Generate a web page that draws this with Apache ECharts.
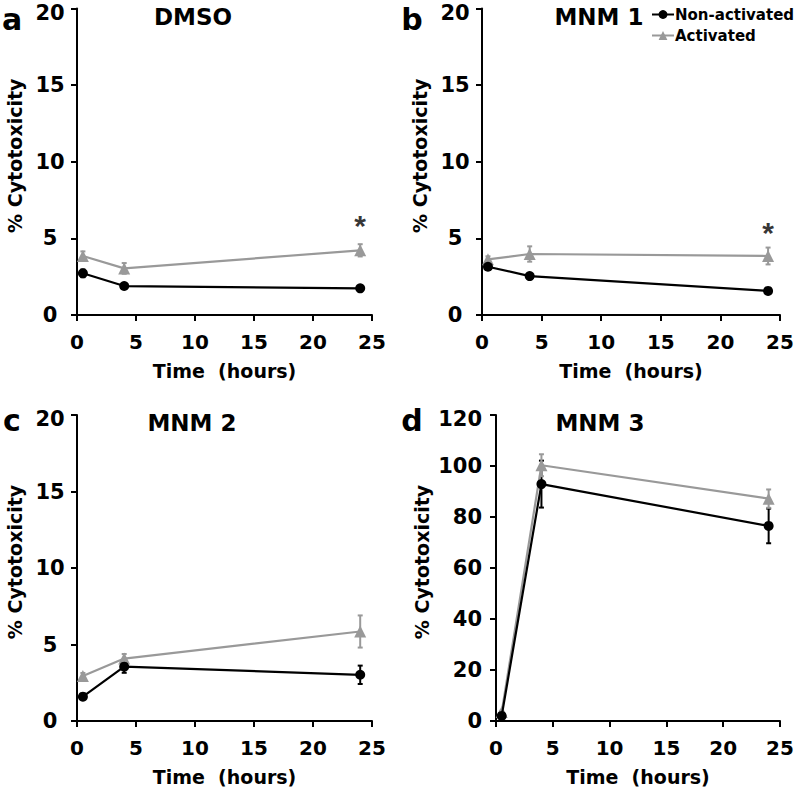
<!DOCTYPE html>
<html>
<head>
<meta charset="utf-8">
<script src="https://cdn.jsdelivr.net/npm/echarts@6/dist/echarts.min.js"></script>
<style>html,body{margin:0;padding:0;background:#fff}#c{width:800px;height:794px}</style>
</head>
<body>
<div id="c"></div>
<script>
// ---- data ----
var times = [0.5, 4, 24];
var xTicks = [0, 5, 10, 15, 20, 25];
var seriesNames = ['Non-activated', 'Activated'];
var panelTitles = ['DMSO', 'MNM 1', 'MNM 2', 'MNM 3'];
var panelLetters = ['a', 'b', 'c', 'd'];

var dmsoNon = [2.72, 1.89, 1.74];
var dmsoNonErr = [0.25, 0.12, 0.1];
var dmsoAct = [3.85, 3.04, 4.22];
var dmsoActErr = [0.3, 0.35, 0.4];

var mnm1Non = [3.15, 2.54, 1.57];
var mnm1NonErr = [0.2, 0.15, 0.1];
var mnm1Act = [3.63, 3.98, 3.85];
var mnm1ActErr = [0.2, 0.5, 0.55];

var mnm2Non = [1.59, 3.55, 3.02];
var mnm2NonErr = [0.12, 0.4, 0.6];
var mnm2Act = [2.94, 4.08, 5.85];
var mnm2ActErr = [0.2, 0.3, 1.05];

var mnm3Non = [2.0, 92.9, 76.5];
var mnm3NonErr = [0.5, 9.2, 6.8];
var mnm3Act = [3.5, 100.3, 87.2];
var mnm3ActErr = [0.5, 4.3, 3.6];

var yMax = [20, 20, 20, 120];
var yInterval = [5, 5, 5, 20];
// significance marks: [time, y]
var stars = [[24, 5.85], [24, 5.4], null, null];

// ---- layout ----
var grids = [
  {left: 77, top: 8.5, width: 295, height: 306.5},
  {left: 482, top: 8.5, width: 298, height: 306.5},
  {left: 77, top: 415, width: 295, height: 306},
  {left: 496, top: 415, width: 284, height: 306}
];
var BLACK = '#000000', GRAY = '#999999';
var FONT = '"DejaVu Sans", sans-serif';

var panels = [
  [dmsoNon, dmsoNonErr, dmsoAct, dmsoActErr],
  [mnm1Non, mnm1NonErr, mnm1Act, mnm1ActErr],
  [mnm2Non, mnm2NonErr, mnm2Act, mnm2ActErr],
  [mnm3Non, mnm3NonErr, mnm3Act, mnm3ActErr]
];

function pairs(vals) { return times.map(function (t, i) { return [t, vals[i]]; }); }
function errData(vals, errs) { return times.map(function (t, i) { return [t, vals[i] - errs[i], vals[i] + errs[i]]; }); }
function errRender(color) {
  return function (params, api) {
    var x = api.value(0), lo = api.value(1), hi = api.value(2);
    var p1 = api.coord([x, hi]), p2 = api.coord([x, lo]);
    var w = 2.5;
    var st = {stroke: color, lineWidth: 2};
    return {type: 'group', children: [
      {type: 'line', shape: {x1: p1[0], y1: p1[1], x2: p2[0], y2: p2[1]}, style: st},
      {type: 'line', shape: {x1: p1[0] - w, y1: p1[1], x2: p1[0] + w, y2: p1[1]}, style: st},
      {type: 'line', shape: {x1: p2[0] - w, y1: p2[1], x2: p2[0] + w, y2: p2[1]}, style: st}
    ]};
  };
}

var xAxes = [], yAxes = [], series = [], graphics = [];
grids.forEach(function (g, i) {
  var ymax = yMax[i];
  var labelBase = {fontFamily: FONT, fontWeight: 'bold', fontSize: 21, color: BLACK};
  xAxes.push({
    type: 'value', gridIndex: i, min: 0, max: 25, interval: 5,
    name: 'Time  (hours)', nameLocation: 'middle', nameGap: 46,
    nameTextStyle: {fontFamily: FONT, fontWeight: 'bold', fontSize: 19, color: BLACK},
    axisLine: {show: true, onZero: false, lineStyle: {color: BLACK, width: 2}},
    axisTick: {show: true, inside: false, length: 6, lineStyle: {color: BLACK, width: 2}},
    axisLabel: {margin: 17, fontFamily: FONT, fontWeight: 'bold', fontSize: 20, color: BLACK,
      formatter: function (v) { return xTicks.indexOf(v) >= 0 ? String(v) : ''; }},
    splitLine: {show: false}
  });
  yAxes.push({
    type: 'value', gridIndex: i, min: 0, max: ymax, interval: yInterval[i],
    name: '% Cytotoxicity', nameLocation: 'middle', nameGap: i === 3 ? 65 : 53,
    nameTextStyle: {fontFamily: FONT, fontWeight: 'bold', fontSize: 19, color: BLACK, padding: [0, 0, 0, 12]},
    axisLine: {show: true, lineStyle: {color: BLACK, width: 2}},
    axisTick: {show: true, inside: false, length: 6, lineStyle: {color: BLACK, width: 2}},
    axisLabel: {margin: i === 3 ? 14 : 27, align: i === 3 ? 'right' : 'center',
      fontFamily: FONT, fontWeight: 'bold', fontSize: 21, color: BLACK,
      formatter: function (v) { return v === ymax ? '{t|' + v + '}' : String(v); },
      rich: {t: Object.assign({padding: [8, 0, 0, 0]}, labelBase)}},
    splitLine: {show: false}
  });
  var p = panels[i];
  series.push({type: 'custom', name: seriesNames[0] + ' err', xAxisIndex: i, yAxisIndex: i,
    renderItem: errRender(BLACK), data: errData(p[0], p[1]), z: 2, silent: true});
  series.push({type: 'custom', name: seriesNames[1] + ' err', xAxisIndex: i, yAxisIndex: i,
    renderItem: errRender(GRAY), data: errData(p[2], p[3]), z: 2, silent: true});
  series.push({type: 'line', name: seriesNames[1], xAxisIndex: i, yAxisIndex: i, data: pairs(p[2]),
    symbol: 'triangle', symbolSize: 12, showAllSymbol: true,
    lineStyle: {color: GRAY, width: 2.2}, itemStyle: {color: GRAY}, z: 3});
  series.push({type: 'line', name: seriesNames[0], xAxisIndex: i, yAxisIndex: i, data: pairs(p[0]),
    symbol: 'circle', symbolSize: 10, showAllSymbol: true,
    lineStyle: {color: BLACK, width: 2.2}, itemStyle: {color: BLACK}, z: 4});
  if (stars[i]) {
    series.push({type: 'scatter', xAxisIndex: i, yAxisIndex: i, data: [stars[i]], symbolSize: 0,
      label: {show: true, position: 'inside', formatter: '*', fontFamily: '"Liberation Sans", Arial, sans-serif',
        fontWeight: 'bold', fontSize: 30, color: BLACK},
      z: 5, silent: true});
  }
});

var titlePos = [[193, 17], [599, 17], [192, 423], [600, 423]];
var letterPos = [[12, 19], [412, 19], [12, 420], [412, 420]];
panelTitles.forEach(function (t, i) {
  graphics.push({type: 'text', x: titlePos[i][0], y: titlePos[i][1],
    style: {text: t, fontFamily: FONT, fontWeight: 'bold', fontSize: 23, fill: BLACK, align: 'center', verticalAlign: 'middle'}});
  graphics.push({type: 'text', x: letterPos[i][0], y: letterPos[i][1],
    style: {text: panelLetters[i], fontFamily: FONT, fontWeight: 'bold', fontSize: 30, fill: BLACK, align: 'center', verticalAlign: 'middle'}});
});

var chart = echarts.init(document.getElementById('c'), null, {renderer: 'svg'});
chart.setOption({
  animation: false,
  backgroundColor: '#ffffff',
  grid: grids.map(function (g) { return Object.assign({containLabel: false, outerBoundsMode: 'none'}, g); }),
  xAxis: xAxes,
  yAxis: yAxes,
  legend: {
    data: [seriesNames[0], seriesNames[1]], orient: 'vertical', left: 646, top: 2,
    itemWidth: 22, itemHeight: 11, itemGap: 6,
    textStyle: {fontFamily: FONT, fontWeight: 'bold', fontSize: 15, color: BLACK, padding: [0, 0, 0, -4]},
    selectedMode: false
  },
  graphic: graphics,
  series: series
});
</script>
</body>
</html>
